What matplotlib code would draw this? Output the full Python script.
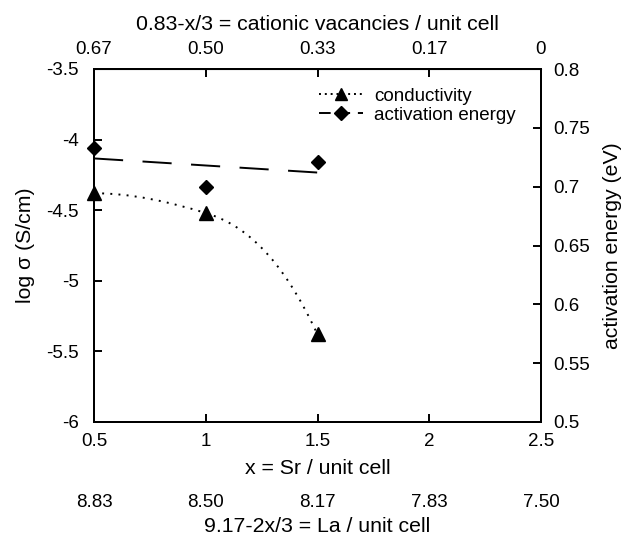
import numpy as np
import matplotlib
matplotlib.use("Agg")
import matplotlib.pyplot as plt
from matplotlib.path import Path
from matplotlib.patches import PathPatch
from matplotlib.lines import Line2D

plt.rcParams['font.family'] = ['Liberation Sans', 'DejaVu Sans']

# Data
sr = [0.5, 1.0, 1.5]
log_sigma = [-4.38, -4.52, -5.38]
act_energy = [0.733, 0.70, 0.721]

x_ticks = [0.5, 1, 1.5, 2, 2.5]
x_ticklabels = ['0.5', '1', '1.5', '2', '2.5']
vac_ticklabels = ['0.67', '0.50', '0.33', '0.17', '0']
la_ticklabels = ['8.83', '8.50', '8.17', '7.83', '7.50']
left_ticks = [-3.5, -4, -4.5, -5, -5.5, -6]
left_ticklabels = ['-3.5', '-4', '-4.5', '-5', '-5.5', '-6']
right_ticks = [0.8, 0.75, 0.7, 0.65, 0.6, 0.55, 0.5]
right_ticklabels = ['0.8', '0.75', '0.7', '0.65', '0.6', '0.55', '0.5']

TICK_FS = 13.5
LABEL_FS = 15.3

fig = plt.figure(figsize=(6.32, 5.36), dpi=100)
ax = fig.add_axes([94/632, 1-422/536, (541-94)/632, (422-69)/536])
ax.set_xlim(0.5, 2.5)
ax.set_ylim(-6, -3.5)
ax2 = ax.twinx()
ax2.set_ylim(0.5, 0.8)

# Smoothed conductivity curve: monotone cubic Hermite (PCHIP-like) rendered as Bezier
xs, ys = np.array(sr), np.array(log_sigma)
h = np.diff(xs)
delta = np.diff(ys) / h
n = len(xs)
m = np.zeros(n)
for i in range(1, n - 1):
    if delta[i-1] * delta[i] > 0:
        w1 = 2*h[i] + h[i-1]
        w2 = h[i] + 2*h[i-1]
        m[i] = (w1 + w2) / (w1/delta[i-1] + w2/delta[i])
m[0] = 0.0
end_tension = 1.4
m[-1] = end_tension * ((2*h[-1] + h[-2])*delta[-1] - h[-1]*delta[-2]) / (h[-1] + h[-2])
verts = [(xs[0], ys[0])]
codes = [Path.MOVETO]
for i in range(n - 1):
    c1 = (xs[i] + h[i]/3, ys[i] + m[i]*h[i]/3)
    c2 = (xs[i+1] - h[i]/3, ys[i+1] - m[i+1]*h[i]/3)
    verts += [c1, c2, (xs[i+1], ys[i+1])]
    codes += [Path.CURVE4] * 3
ax.add_patch(PathPatch(Path(verts, codes), fill=False, lw=1.4, ls=(0, (1, 3.2)),
                       edgecolor='black', clip_on=False))
ax.plot(sr, log_sigma, ls='none', marker='^', ms=9.5, color='black', clip_on=False, zorder=5)

# Activation energy with linear trend line
coef = np.polyfit(sr, act_energy, 1)
tx = np.array([sr[0], sr[-1]])
ax2.plot(tx, np.polyval(coef, tx), color='black', lw=1.4, ls=(0, (15, 10)))
ax2.plot(sr, act_energy, ls='none', marker='D', ms=7.5, color='black', clip_on=False, zorder=5)

# Axes styling
ax.set_xticks(x_ticks)
ax.set_xticklabels(x_ticklabels)
ax.set_yticks(left_ticks)
ax.set_yticklabels(left_ticklabels)
ax2.set_yticks(right_ticks)
ax2.set_yticklabels(right_ticklabels)
for a in (ax, ax2):
    for s in a.spines.values():
        s.set_linewidth(1.4)
ax.tick_params(axis='x', direction='in', length=6, width=1.4, labelsize=TICK_FS, pad=8)
ax.tick_params(axis='y', direction='in', length=6, width=1.4, labelsize=TICK_FS, pad=11)
ax2.tick_params(axis='y', direction='in', length=6, width=1.4, labelsize=TICK_FS, pad=9)

ax.set_xlabel('x = Sr / unit cell', fontsize=LABEL_FS, labelpad=6.5)
ax.set_ylabel('log σ (S/cm)', fontsize=LABEL_FS, labelpad=8)
ax2.set_ylabel('activation energy (eV)', fontsize=LABEL_FS, labelpad=9)

top = ax.secondary_xaxis('top')
top.set_xticks(x_ticks)
top.set_xticklabels(vac_ticklabels)
top.tick_params(direction='in', length=6, width=1.4, labelsize=TICK_FS, pad=8)
top.set_xlabel('0.83-x/3 = cationic vacancies / unit cell', fontsize=LABEL_FS, labelpad=8)

bot = ax.secondary_xaxis(-0.204)
bot.set_xticks(x_ticks)
bot.set_xticklabels(la_ticklabels)
bot.tick_params(length=0, labelsize=TICK_FS, pad=0)
bot.spines['bottom'].set_visible(False)
bot.set_xlabel('9.17-2x/3 = La / unit cell', fontsize=LABEL_FS, labelpad=4)

handles = [Line2D([], [], color='black', ls=(0, (1, 2)), lw=1.4, marker='^', ms=9),
           Line2D([], [], color='black', ls=(0, (6, 4)), lw=1.4, marker='D', ms=7)]
ax2.legend(handles, ['conductivity', 'activation energy'], loc='upper right',
           bbox_to_anchor=(0.982, 0.995), frameon=False, fontsize=TICK_FS,
           handlelength=2.35, handletextpad=0.6, labelspacing=0.1)

fig.savefig('out.png', dpi=100)
